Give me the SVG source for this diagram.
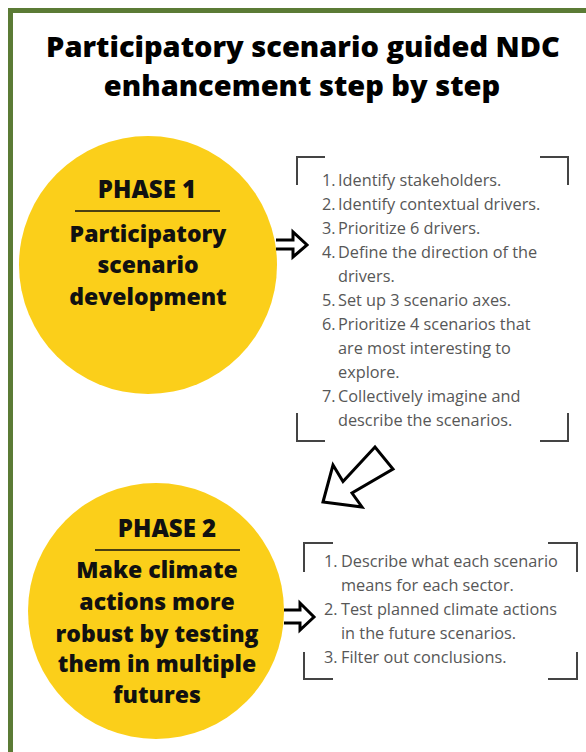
<svg xmlns="http://www.w3.org/2000/svg" width="586" height="752" viewBox="0 0 586 752">
  <style>
    .title { font-family: "Open Sans", "Liberation Sans", sans-serif; font-weight: 800; font-size: 29px; fill: #000; text-anchor: middle; }
    .head { font-family: "Open Sans", "Liberation Sans", sans-serif; font-weight: 800; font-size: 24px; fill: #111; text-anchor: middle; }
    .phase { font-family: "Open Sans", "Liberation Sans", sans-serif; font-weight: 800; font-size: 23px; fill: #111; text-anchor: middle; }
    .step { font-family: "Open Sans", "Liberation Sans", sans-serif; font-weight: 400; font-size: 16.3px; fill: #575757; }
    .disc { fill: #FBCF1A; }
    .rule { stroke: #111; stroke-width: 1.3; }
    .bracket { fill: none; stroke: #444; stroke-width: 2; }
    .arrow { fill: #fff; stroke: #000; stroke-width: 3; stroke-linejoin: miter; }
  </style>

  <rect x="0" y="0" width="586" height="752" fill="#fff"/>
  <!-- green frame, running off the right and bottom edges -->
  <rect x="10.5" y="10.5" width="600" height="780" fill="none" stroke="#5B7B35" stroke-width="5"/>

  <g id="title">
    <text class="title" x="303" y="57">Participatory scenario guided NDC</text>
    <text class="title" x="302" y="96">enhancement step by step</text>
  </g>

  <g id="phase1">
    <circle class="disc" cx="148" cy="265" r="129"/>
    <text class="head" x="147" y="198">PHASE 1</text>
    <line class="rule" x1="75" y1="211" x2="220" y2="211"/>
    <text class="phase" x="148" y="242">Participatory</text>
    <text class="phase" x="148" y="273">scenario</text>
    <text class="phase" x="148" y="305">development</text>
  </g>

  <g id="steps1">
    <path class="bracket" d="M325 157 H297 V185 M540 157 H568 V185 M297 413 V441 H325 M568 413 V441 H540"/>
    <g class="step">
      <text x="322" y="186">1.</text><text x="338" y="186">Identify stakeholders.</text>
      <text x="322" y="210">2.</text><text x="338" y="210">Identify contextual drivers.</text>
      <text x="322" y="234">3.</text><text x="338" y="234">Prioritize 6 drivers.</text>
      <text x="322" y="258">4.</text><text x="338" y="258">Define the direction of the</text>
      <text x="338" y="282">drivers.</text>
      <text x="322" y="306">5.</text><text x="338" y="306">Set up 3 scenario axes.</text>
      <text x="322" y="330">6.</text><text x="338" y="330">Prioritize 4 scenarios that</text>
      <text x="338" y="354">are most interesting to</text>
      <text x="338" y="378">explore.</text>
      <text x="322" y="402">7.</text><text x="338" y="402">Collectively imagine and</text>
      <text x="338" y="426">describe the scenarios.</text>
    </g>
  </g>

  <g id="phase2">
    <circle class="disc" cx="156" cy="611" r="128"/>
    <text class="head" x="167" y="537">PHASE 2</text>
    <line class="rule" x1="95" y1="550" x2="240" y2="550"/>
    <text class="phase" x="157" y="578">Make climate</text>
    <text class="phase" x="157" y="610">actions more</text>
    <text class="phase" x="157" y="642">robust by testing</text>
    <text class="phase" x="157" y="672">them in multiple</text>
    <text class="phase" x="157" y="703">futures</text>
  </g>

  <g id="steps2">
    <path class="bracket" d="M333 543 H304 V572 M548 543 H577 V572 M304 652 V679 H333 M577 652 V679 H548"/>
    <g class="step">
      <text x="324" y="567">1.</text><text x="341" y="567">Describe what each scenario</text>
      <text x="341" y="591">means for each sector.</text>
      <text x="324" y="615">2.</text><text x="341" y="615">Test planned climate actions</text>
      <text x="341" y="639">in the future scenarios.</text>
      <text x="324" y="663">3.</text><text x="341" y="663">Filter out conclusions.</text>
    </g>
  </g>

  <g id="connectors">
    <!-- phase 1 to its steps -->
    <path class="arrow" d="M276 240 H293 V232 L307 245 L293 257 V249 H276"/>
    <!-- steps to phase 2 -->
    <path class="arrow" stroke-width="4" d="M323 502 L333 465 L343 481.5 L375 447 L393 469 L352 493 L362 507 Z"/>
    <!-- phase 2 to its steps -->
    <path class="arrow" d="M284 610 H300 V603 L314 617 L300 630 V623 H284"/>
  </g>
</svg>
